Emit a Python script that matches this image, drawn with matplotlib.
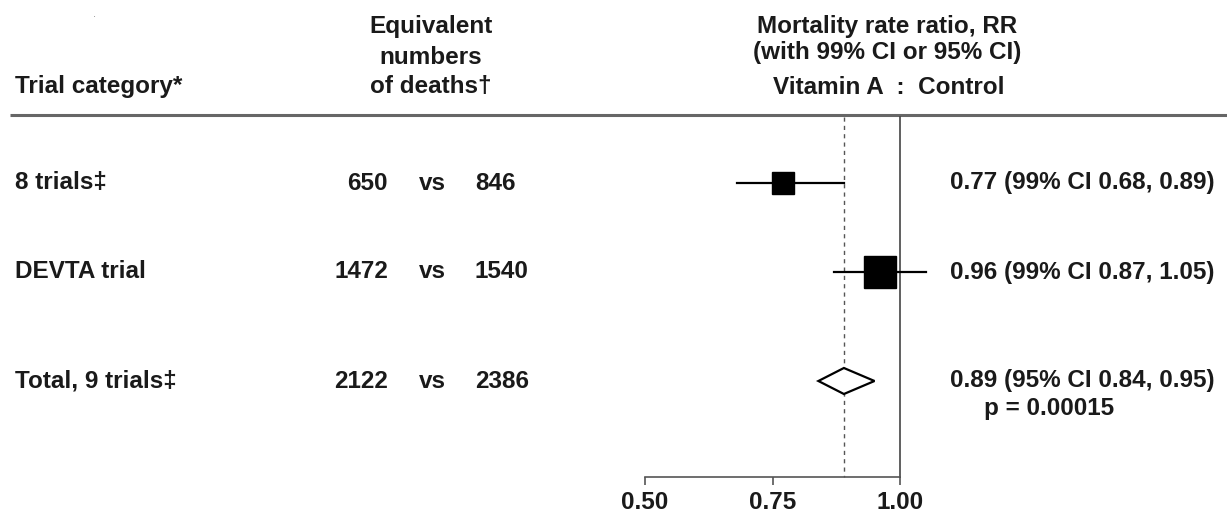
import matplotlib.pyplot as plt
from matplotlib.patches import Polygon

# data
trials = ["8 trials\u2021", "DEVTA trial", "Total, 9 trials\u2021"]
deaths_vita = ["650", "1472", "2122"]
deaths_ctrl = ["846", "1540", "2386"]
rr = [0.77, 0.96, 0.89]
ci_low = [0.68, 0.87, 0.84]
ci_high = [0.89, 1.05, 0.95]
rr_labels = ["0.77 (99% CI 0.68, 0.89)",
             "0.96 (99% CI 0.87, 1.05)",
             "0.89 (95% CI 0.84, 0.95)"]
p_label = "p = 0.00015"
xticks = [0.50, 0.75, 1.00]
overall_rr = 0.89

# layout (y in pixels from top)
row_y = [183, 272, 381]
box_size = [15.8, 22.5]
W, H = 1227, 515

plt.rcParams['font.family'] = ['Liberation Sans', 'DejaVu Sans']
fs = 17.5
tc = '#1a1a1a'

fig = plt.figure(figsize=(W / 100, H / 100), dpi=100)
ax = fig.add_axes([0, 0, 1, 1])
# 0.50 -> 645 px, 1.00 -> 900 px
ppu = (900 - 645) / 0.5
ax.set_xlim(0.5 - 645 / ppu, 1.0 + (W - 900) / ppu)
ax.set_ylim(H, 0)
for s in ['top', 'left', 'right']:
    ax.spines[s].set_visible(False)
ax.spines['bottom'].set_position(('data', 477))
ax.spines['bottom'].set_bounds(xticks[0], xticks[-1])
ax.spines['bottom'].set_color('#555555')
ax.spines['bottom'].set_linewidth(1.2)
ax.set_xticks(xticks)
ax.set_xticklabels([f"{t:.2f}" for t in xticks], fontsize=fs, fontweight='bold', color=tc)
ax.tick_params(axis='x', direction='out', length=6, width=1.2, color='#555555', pad=4)
ax.set_yticks([])

T = ax.get_yaxis_transform()
def fx(px):
    return px / W

# headers
ax.text(fx(15), 87, "Trial category*", transform=T, fontsize=fs, fontweight='bold',
        color=tc, va='center', ha='left')
for y, s in zip([27, 57, 86], ["Equivalent", "numbers", "of deaths\u2020"]):
    ax.text(fx(431), y, s, transform=T, fontsize=fs, fontweight='bold', color=tc,
            va='center', ha='center')
ax.text(fx(887), 27, "Mortality rate ratio, RR", transform=T, fontsize=fs,
        fontweight='bold', color=tc, va='center', ha='center')
ax.text(fx(887), 53, "(with 99% CI or 95% CI)", transform=T, fontsize=fs,
        fontweight='bold', color=tc, va='center', ha='center')
ax.text(fx(889), 88, "Vitamin A  :  Control", transform=T, fontsize=fs,
        fontweight='bold', color=tc, va='center', ha='center')
ax.text(fx(95), 14, ".", transform=T, fontsize=8, color='#888888', ha='center', va='center')

# header rule
ax.plot([fx(10), 1], [115, 115], transform=T, color='#666666', lw=2.2, solid_capstyle='butt')

# reference lines
ax.plot([1.0, 1.0], [117, 477], color='#444444', lw=1.2)
ax.plot([overall_rr, overall_rr], [117, 477], color='#555555', lw=1.0, ls=(0, (3, 3)))

# rows
for i, y in enumerate(row_y):
    ax.text(fx(15), y, trials[i], transform=T, fontsize=fs, fontweight='bold',
            color=tc, va='center', ha='left')
    ax.text(fx(388), y, deaths_vita[i], transform=T, fontsize=fs, fontweight='bold',
            color=tc, va='center', ha='right')
    ax.text(fx(432), y, "vs", transform=T, fontsize=fs, fontweight='bold',
            color=tc, va='center', ha='center')
    ax.text(fx(475), y, deaths_ctrl[i], transform=T, fontsize=fs, fontweight='bold',
            color=tc, va='center', ha='left')
    ax.text(fx(950), y, rr_labels[i], transform=T, fontsize=fs, fontweight='bold',
            color=tc, va='center', ha='left')
    if i < 2:
        ax.plot([ci_low[i], ci_high[i]], [y, y], color='black', lw=1.6)
        ax.plot(rr[i], y, marker='s', ms=box_size[i], color='black', mec='black')
    else:
        d = Polygon([[ci_low[i], y], [rr[i], y - 13], [ci_high[i], y], [rr[i], y + 13]],
                    closed=True, facecolor='white', edgecolor='black', lw=1.6, zorder=3)
        ax.add_patch(d)

ax.text(fx(984), 408, p_label, transform=T, fontsize=fs, fontweight='bold',
        color=tc, va='center', ha='left')

fig.savefig('out.png', dpi=100)
